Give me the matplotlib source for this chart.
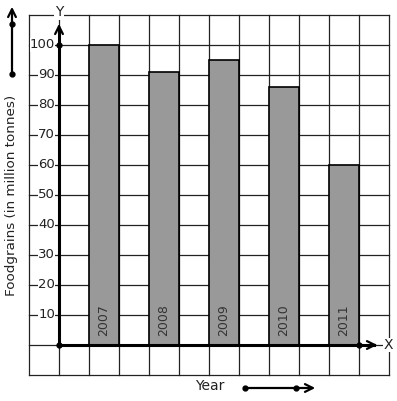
import matplotlib
matplotlib.use("Agg")
import matplotlib.pyplot as plt
from matplotlib.patches import FancyArrowPatch

years = ["2007", "2008", "2009", "2010", "2011"]
values = [100, 91, 95, 86, 60]
bar_pos = [1.5, 3.5, 5.5, 7.5, 9.5]
yticks = [10, 20, 30, 40, 50, 60, 70, 80, 90, 100]

W, H = 397, 401
fig = plt.figure(figsize=(W / 100, H / 100), dpi=100)
ax = fig.add_axes([29 / W, 26 / H, 360 / W, 360 / H])
ax.set_xlim(-1, 11)
ax.set_ylim(-10, 110)
ax.set_axis_off()

# grid
for gx in range(-1, 12):
    ax.plot([gx, gx], [-10, 110], color="#222222", lw=0.9, zorder=1, clip_on=False)
for gy in range(-10, 111, 10):
    ax.plot([-1, 11], [gy, gy], color="#222222", lw=0.9, zorder=1, clip_on=False)

# bars
ax.bar(bar_pos, values, width=1.0, color="#999999", edgecolor="black", lw=1.2, zorder=2)
for x, lab in zip(bar_pos, years):
    ax.text(x, 3, lab, rotation=90, ha="center", va="bottom", fontsize=9, color="#333333", zorder=3)

# axes arrows
ax.plot([0, 0], [0, 105], color="black", lw=2.2, zorder=4, clip_on=False)
ax.annotate("", xy=(0, 108), xytext=(0, 103),
            arrowprops=dict(arrowstyle="->", lw=1.6, color="black", mutation_scale=14), annotation_clip=False)
ax.plot([0, 10.5], [0, 0], color="black", lw=2.2, zorder=4, clip_on=False)
ax.annotate("", xy=(10.7, 0), xytext=(10.4, 0),
            arrowprops=dict(arrowstyle="->", lw=1.6, color="black", mutation_scale=14), annotation_clip=False)
ax.plot([0, 0, 10], [0, 100, 0], "o", color="black", ms=3.5, zorder=5, clip_on=False)
ax.text(10.82, 0, "X", ha="left", va="center", fontsize=10, color="#222222",
        bbox=dict(facecolor="white", edgecolor="none", pad=0.3), zorder=6)
ax.text(0, 111, "Y", ha="center", va="center", fontsize=10, color="#222222",
        bbox=dict(facecolor="white", edgecolor="none", pad=0.5), zorder=6, clip_on=False)

# tick labels
for t in yticks:
    ax.text(-0.13, t, str(t), ha="right", va="center", fontsize=9.5, color="#222222",
            bbox=dict(facecolor="white", edgecolor="none", pad=0.2), zorder=3)

# left axis label and arrow
fig.text(12 / W, 1 - 195 / H, "Foodgrains (in million tonnes)", rotation=90,
         ha="center", va="center", fontsize=9.7, color="#222222")
fig.add_artist(FancyArrowPatch((12 / W, 1 - 75 / H), (12 / W, 1 - 4 / H), transform=fig.transFigure,
                               arrowstyle="->", lw=1.6, color="black", mutation_scale=14))
fig.add_artist(plt.Line2D([12 / W, 12 / W], [1 - 24 / H, 1 - 74 / H], transform=fig.transFigure,
                          marker="o", ms=3.5, lw=0, color="black"))

# bottom label and arrow
fig.text(210 / W, 1 - 386 / H, "Year", ha="center", va="center", fontsize=10, color="#222222")
fig.add_artist(FancyArrowPatch((245 / W, 1 - 388 / H), (318 / W, 1 - 388 / H), transform=fig.transFigure,
                               arrowstyle="->", lw=1.6, color="black", mutation_scale=14))
fig.add_artist(plt.Line2D([245 / W, 296 / W], [1 - 388 / H, 1 - 388 / H], transform=fig.transFigure,
                          marker="o", ms=3.5, lw=0, color="black"))

fig.savefig("out.png", dpi=100, facecolor="white")
